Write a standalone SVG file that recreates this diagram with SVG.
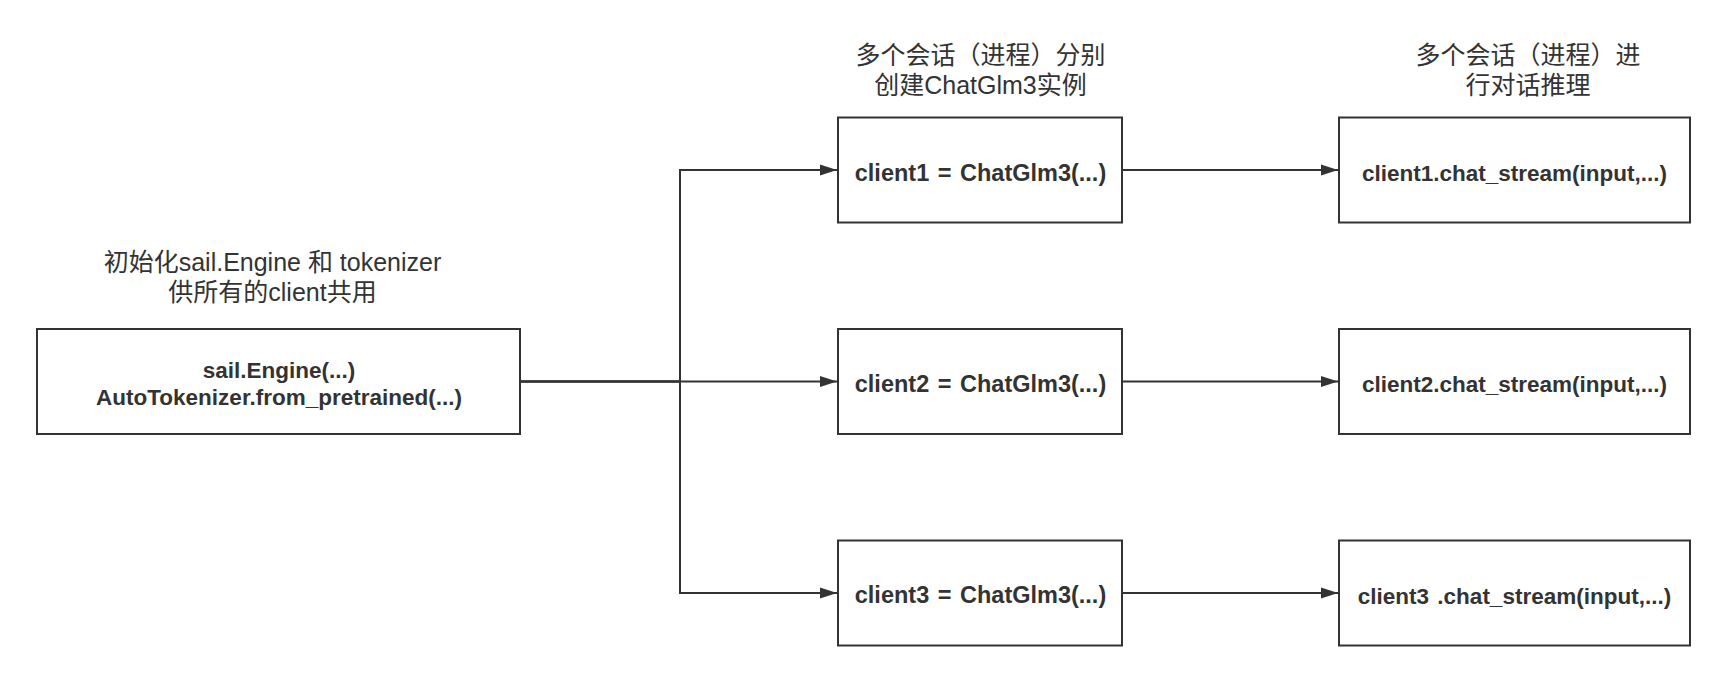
<svg xmlns="http://www.w3.org/2000/svg" width="1728" height="683" viewBox="0 0 1728 683">
<style>
.box{fill:#fff;stroke:#333;stroke-width:2}
.bt{font-family:"Liberation Sans",Arial,sans-serif;font-weight:bold;font-size:22.5px;fill:#333;text-anchor:middle}
.ws{font-size:23.5px;word-spacing:2px}
.lb{font-family:"Liberation Sans","Noto Sans CJK SC",sans-serif;font-size:25px;fill:#333;text-anchor:middle}
.ln{fill:none;stroke:#333;stroke-width:2}
</style>
<defs>
<marker id="ah" markerWidth="17" markerHeight="12" refX="17" refY="6" orient="auto" markerUnits="userSpaceOnUse">
<path d="M0,0.5 L17,6 L0,11.5 Z" fill="#333"/>
</marker>
</defs>
<rect width="1728" height="683" fill="#fff"/>
<g id="connectors">
<path class="ln" d="M520,381.5 H680 V170 H837" marker-end="url(#ah)"/>
<path class="ln" d="M520,381.5 H837" marker-end="url(#ah)"/>
<path class="ln" d="M520,381.5 H680 V593 H837" marker-end="url(#ah)"/>
<path class="ln" d="M1122,170 H1338" marker-end="url(#ah)"/>
<path class="ln" d="M1122,381.5 H1338" marker-end="url(#ah)"/>
<path class="ln" d="M1122,593 H1338" marker-end="url(#ah)"/>
</g>
<g id="label-init">
<text class="lb" x="272.5" y="271">初始化sail.Engine 和 tokenizer</text>
<text class="lb" x="272.5" y="301">供所有的client共用</text>
</g>
<g id="label-create">
<text class="lb" x="980.5" y="64">多个会话（进程）分别</text>
<text class="lb" x="980.5" y="93.5">创建ChatGlm3实例</text>
</g>
<g id="label-chat">
<text class="lb" x="1528" y="64">多个会话（进程）进</text>
<text class="lb" x="1528" y="93.5">行对话推理</text>
</g>
<g id="node-init">
<rect class="box" x="37" y="329" width="483" height="105"/>
<text class="bt" x="279" y="377.5">sail.Engine(...)</text>
<text class="bt" x="279" y="405">AutoTokenizer.from_pretrained(...)</text>
</g>
<g id="node-client1">
<rect class="box" x="838" y="117.5" width="284" height="105"/>
<text class="bt ws" x="980.5" y="180.5">client1 = ChatGlm3(...)</text>
</g>
<g id="node-client2">
<rect class="box" x="838" y="329" width="284" height="105"/>
<text class="bt ws" x="980.5" y="391.5">client2 = ChatGlm3(...)</text>
</g>
<g id="node-client3">
<rect class="box" x="838" y="540.5" width="284" height="105"/>
<text class="bt ws" x="980.5" y="603">client3 = ChatGlm3(...)</text>
</g>
<g id="node-chat1">
<rect class="box" x="1339" y="117.5" width="351" height="105"/>
<text class="bt" x="1514.5" y="181">client1.chat_stream(input,...)</text>
</g>
<g id="node-chat2">
<rect class="box" x="1339" y="329" width="351" height="105"/>
<text class="bt" x="1514.5" y="392">client2.chat_stream(input,...)</text>
</g>
<g id="node-chat3">
<rect class="box" x="1339" y="540.5" width="351" height="105"/>
<text class="bt" x="1514.5" y="603.5" style="word-spacing:2px">client3 .chat_stream(input,...)</text>
</g>
</svg>
